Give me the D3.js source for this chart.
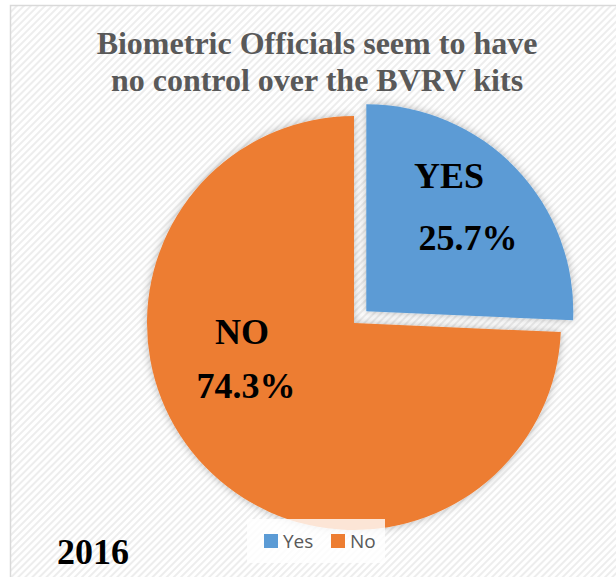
<!DOCTYPE html>
<html>
<head>
<meta charset="utf-8">
<script src="https://cdn.jsdelivr.net/npm/d3@7"></script>
<style>
  html, body { margin: 0; padding: 0; background: #fff; }
  svg { display: block; }
</style>
</head>
<body>
<svg id="chart" width="616" height="577"></svg>
<script>
// Survey answers
const categories = ["Yes", "No"];
const values = [25.7, 74.3];
const sliceLabels = ["YES", "NO"];
const colors = ["#5b9bd5", "#ed7d31"];
const titleLines = ["Biometric Officials seem to have", "no control over the BVRV kits"];
const yearLabel = "2016";

const svg = d3.select("#chart");
const W = 616, H = 577;

// Background: fine diagonal hatch inside a light frame
const defs = svg.append("defs");
const pat = defs.append("pattern")
  .attr("id", "hatch")
  .attr("patternUnits", "userSpaceOnUse")
  .attr("width", 5).attr("height", 5)
  .attr("patternTransform", "rotate(-45)");
pat.append("rect").attr("width", 5).attr("height", 5).attr("fill", "#ffffff");
pat.append("rect").attr("width", 5).attr("height", 2).attr("fill", "#ededed");

const shadow = defs.append("filter").attr("id", "glow")
  .attr("x", "-20%").attr("y", "-20%").attr("width", "140%").attr("height", "140%");
shadow.append("feGaussianBlur").attr("in", "SourceAlpha").attr("stdDeviation", 4).attr("result", "b");
shadow.append("feFlood").attr("flood-color", "#000").attr("flood-opacity", 0.28).attr("result", "c");
shadow.append("feComposite").attr("in", "c").attr("in2", "b").attr("operator", "in").attr("result", "s");
const merge = shadow.append("feMerge");
merge.append("feMergeNode").attr("in", "s");
merge.append("feMergeNode").attr("in", "SourceGraphic");

svg.append("rect").attr("x", 0).attr("y", 0).attr("width", W).attr("height", H).attr("fill", "#fff");
svg.append("rect")
  .attr("x", 10.5).attr("y", 5.5)
  .attr("width", W + 20).attr("height", H + 20)
  .attr("fill", "url(#hatch)")
  .attr("stroke", "#d9d9d9").attr("stroke-width", 1.5);

// Title
svg.append("text")
  .attr("text-anchor", "middle")
  .attr("font-family", "'Liberation Serif', 'Times New Roman', serif")
  .attr("font-weight", "bold")
  .attr("font-size", 32)
  .attr("fill", "#595959")
  .selectAll("tspan").data(titleLines).join("tspan")
  .attr("x", 317)
  .attr("y", (d, i) => 54 + i * 37)
  .text(d => d);

// Pie
const cx = 354, cy = 323, R = 207, explode = 17;
const data = categories.map((c, i) => ({ cat: c, value: values[i], label: sliceLabels[i], color: colors[i] }));
const pie = d3.pie().sort(null).value(d => d.value);
const arc = d3.arc().innerRadius(0).outerRadius(R);
const arcs = pie(data);

const g = svg.append("g").attr("transform", `translate(${cx},${cy})`);
g.selectAll("path").data(arcs).join("path")
  .attr("d", arc)
  .attr("fill", d => d.data.color)
  .attr("filter", "url(#glow)")
  .attr("transform", d => {
    if (d.data.cat !== "Yes") return null;
    const mid = (d.startAngle + d.endAngle) / 2;
    return `translate(${Math.sin(mid) * explode},${-Math.cos(mid) * explode})`;
  });

// Slice labels: name and percentage
const labelPos = {
  Yes: { name: [95, -135], pct: [114, -73] },
  No: { name: [-112, 21], pct: [-108, 75] }
};
const lab = g.append("g")
  .attr("font-family", "'Liberation Serif', 'Times New Roman', serif")
  .attr("font-weight", "bold")
  .attr("font-size", 36)
  .attr("fill", "#000")
  .attr("text-anchor", "middle");
arcs.forEach(d => {
  const p = labelPos[d.data.cat];
  lab.append("text").attr("x", p.name[0]).attr("y", p.name[1]).text(d.data.label);
  lab.append("text").attr("x", p.pct[0]).attr("y", p.pct[1]).text(d3.format(".1f")(d.data.value) + "%");
});

// Legend
const legend = svg.append("g");
legend.append("rect")
  .attr("x", 247).attr("y", 519).attr("width", 138).attr("height", 44)
  .attr("fill", "#fff").attr("fill-opacity", 0.8);
const items = [{ x: 264, tx: 283 }, { x: 331, tx: 350 }];
data.forEach((d, i) => {
  legend.append("rect")
    .attr("x", items[i].x).attr("y", 534).attr("width", 14).attr("height", 14)
    .attr("fill", d.color);
  legend.append("text")
    .attr("x", items[i].tx).attr("y", 548)
    .attr("font-family", "'Open Sans', 'Noto Sans', sans-serif")
    .attr("font-size", 19)
    .attr("fill", "#595959")
    .text(d.cat);
});

// Year
svg.append("text")
  .attr("x", 57).attr("y", 564)
  .attr("font-family", "'Liberation Serif', 'Times New Roman', serif")
  .attr("font-weight", "bold")
  .attr("font-size", 36)
  .attr("fill", "#000")
  .text(yearLabel);
</script>
</body>
</html>
